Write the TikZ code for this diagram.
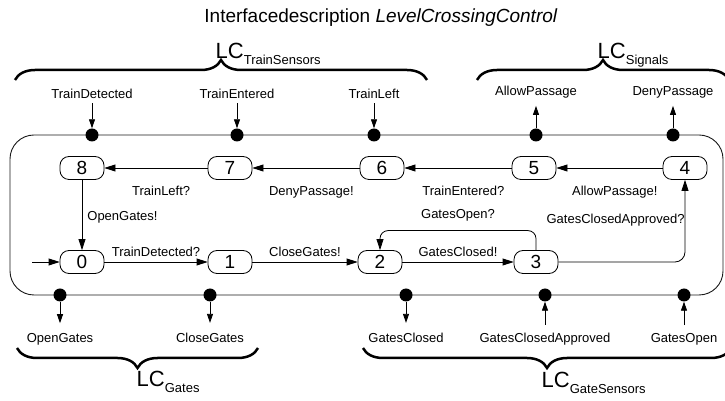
\documentclass[tikz,border=0pt]{standalone}
\usepackage{fontspec}
\setmainfont{Liberation Sans}
\usetikzlibrary{arrows.meta,positioning,decorations.pathreplacing}
\newcommand{\lcsub}[1]{{\fontsize{13}{13}\selectfont\raisebox{-6pt}{#1}}}
\tikzset{
  state/.style={draw, line width=0.8pt, rounded corners=9pt, minimum width=44pt, minimum height=23pt, inner sep=0pt, font=\fontsize{19}{19}\selectfont},
  port/.style={circle, fill=black, inner sep=0pt, minimum size=13pt},
  portlbl/.style={font=\fontsize{13}{13}\selectfont, inner sep=0pt, anchor=base},
  trans/.style={-{Triangle[length=11pt,width=7pt]}, line width=0.8pt},
  sig/.style={-{Triangle[length=9pt,width=6pt]}, line width=0.8pt},
  lbl/.style={font=\fontsize{13}{13}\selectfont, inner sep=1pt},
  grp/.style={decorate, decoration={brace, amplitude=20pt}, line width=2.5pt},
  grplbl/.style={font=\fontsize{22}{22}\selectfont, inner sep=0pt, anchor=base west},
}

\begin{document}
\begin{tikzpicture}[x=1pt, y=1pt]
  \useasboundingbox (0,0) rectangle (725,401);
  \node[font=\fontsize{19}{19}\selectfont, anchor=base] (title) at (381,378) {Interfacedescription \textit{LevelCrossingControl}};

  % component border
  \draw[black!90, line width=0.9pt, rounded corners=24pt] (10,106) rectangle (723,266);

  % ports on top
  \node[port] (td) at (92,266) {};
  \node[port] (te) at (237,266) {};
  \node[port] (tl) at (374,266) {};
  \node[port] (ap) at (536,266) {};
  \node[port] (dp) at (673,266) {};
  \node[portlbl] (tdl) at (92,302) {TrainDetected};
  \node[portlbl] (tel) at (237,302) {TrainEntered};
  \node[portlbl] (tll) at (374,302) {TrainLeft};
  \node[portlbl] (apl) at (536,305) {AllowPassage};
  \node[portlbl] (dpl) at (673,305) {DenyPassage};
  \draw[sig, shorten <=4pt] (tdl) -- (td);
  \draw[sig, shorten <=4pt] (tel) -- (te);
  \draw[sig, shorten <=4pt] (tll) -- (tl);
  \draw[sig, shorten >=7pt] (ap) -- (apl);
  \draw[sig, shorten >=7pt] (dp) -- (dpl);

  % ports at the bottom
  \node[port] (og) at (60,106) {};
  \node[port] (cg) at (210,106) {};
  \node[port] (gc) at (406,106) {};
  \node[port] (gca) at (545,106) {};
  \node[port] (go) at (684,106) {};
  \node[portlbl] (ogl) at (60,58.5) {OpenGates};
  \node[portlbl] (cgl) at (210,58.5) {CloseGates};
  \node[portlbl] (gcl) at (406,58.5) {GatesClosed};
  \node[portlbl] (gcal) at (545,58.5) {GatesClosedApproved};
  \node[portlbl] (gol) at (684,58.5) {GatesOpen};
  \draw[sig, shorten >=10pt] (og) -- (ogl);
  \draw[sig, shorten >=10pt] (cg) -- (cgl);
  \draw[sig, shorten >=10pt] (gc) -- (gcl);
  \draw[sig, shorten <=8pt] (gcal) -- (gca);
  \draw[sig, shorten <=8pt] (gol) -- (go);

  % groups
  \draw[grp] (15,321) -- (427,321);
  \draw[grp] (477,321) -- (729,321);
  \draw[grp] (258,53) -- (17,53);
  \draw[grp] (731,53) -- (363,53);
  \node[grplbl] (lcts) at (215.5,342) {LC\lcsub{TrainSensors}};
  \node[grplbl] (lcsig) at (597.5,342) {LC\lcsub{Signals}};
  \node[grplbl] (lcg) at (136.5,14) {LC\lcsub{Gates}};
  \node[grplbl] (lcgs) at (541.5,13) {LC\lcsub{GateSensors}};

  % automaton
  \node[state] (s8) at (82,233) {8};
  \node[state] (s7) at (230,233) {7};
  \node[state] (s6) at (382,233) {6};
  \node[state] (s5) at (534,233) {5};
  \node[state] (s4) at (685,233) {4};
  \node[state] (s0) at (82,139) {0};
  \node[state] (s1) at (230,139) {1};
  \node[state] (s2) at (380,139) {2};
  \node[state] (s3) at (536,139) {3};
  \coordinate (init) at (32,139);

  \draw[trans] (init) -- (s0);
  \draw[trans] (s0) -- node[lbl, above=4pt] {TrainDetected?} (s1);
  \draw[trans] (s1) -- node[lbl, above=4pt] {CloseGates!} (s2);
  \draw[trans] (s2) -- node[lbl, above=4pt] {GatesClosed!} (s3);
  \draw[trans, rounded corners=8pt] (s3.north) -- ++(0,19.5) -| node[lbl, pos=.25, above=8pt] {GatesOpen?} (s2.north);
  \draw[trans, rounded corners=10pt] (s3.east) -| node[lbl, pos=.757, left=0pt, inner sep=0pt] {GatesClosedApproved?} (s4.south);
  \draw[trans] (s4) -- node[lbl, pos=.45, below=17pt] {AllowPassage!} (s5);
  \draw[trans] (s5) -- node[lbl, pos=.45, below=17pt] {TrainEntered?} (s6);
  \draw[trans] (s6) -- node[lbl, pos=.45, below=17pt] {DenyPassage!} (s7);
  \draw[trans] (s7) -- node[lbl, pos=.45, below=17pt] {TrainLeft?} (s8);
  \draw[trans] (s8) -- node[lbl, pos=.54, right=4pt] {OpenGates!} (s0);
\end{tikzpicture}
\end{document}
